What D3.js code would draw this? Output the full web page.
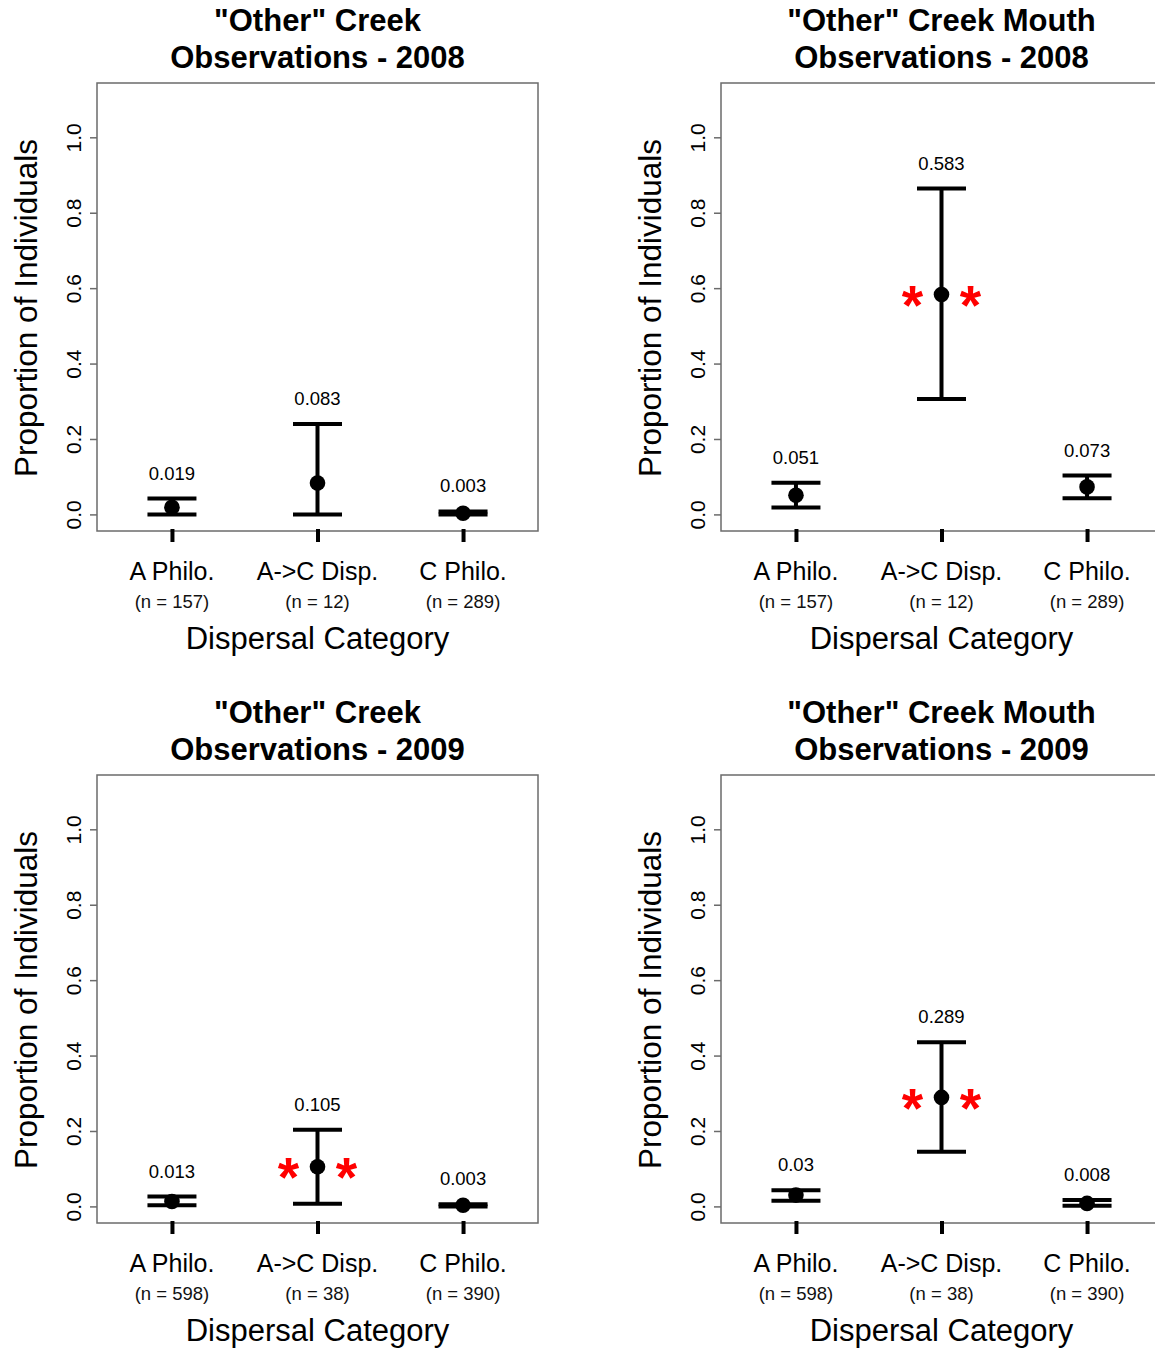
<!DOCTYPE html>
<html>
<head>
<meta charset="utf-8">
<script src="https://cdn.jsdelivr.net/npm/d3@7"></script>
<style>
  html, body { margin: 0; padding: 0; background: #fff; }
  svg { display: block; font-family: "Liberation Sans", Arial, sans-serif; }
</style>
</head>
<body>
<svg id="chart" width="1155" height="1348"></svg>
<script>
// ---------- Data ----------
const categories = ["A Philo.", "A->C Disp.", "C Philo."];
const yTickValues = [0, 0.2, 0.4, 0.6, 0.8, 1.0];
const xLabel = "Dispersal Category";
const yLabel = "Proportion of Individuals";

const titlesCreek2008 = ['"Other" Creek', "Observations - 2008"];
const titlesMouth2008 = ['"Other" Creek Mouth', "Observations - 2008"];
const titlesCreek2009 = ['"Other" Creek', "Observations - 2009"];
const titlesMouth2009 = ['"Other" Creek Mouth', "Observations - 2009"];

const n2008 = [157, 12, 289];
const n2009 = [598, 38, 390];

const propCreek2008  = [0.019, 0.083, 0.003];
const lowerCreek2008 = [0.000, 0.000, 0.000];
const upperCreek2008 = [0.042, 0.240, 0.008];
const sigCreek2008   = [false, false, false];

const propMouth2008  = [0.051, 0.583, 0.073];
const lowerMouth2008 = [0.018, 0.306, 0.043];
const upperMouth2008 = [0.084, 0.864, 0.103];
const sigMouth2008   = [false, true, false];

const propCreek2009  = [0.013, 0.105, 0.003];
const lowerCreek2009 = [0.003, 0.007, 0.000];
const upperCreek2009 = [0.026, 0.203, 0.006];
const sigCreek2009   = [false, true, false];

const propMouth2009  = [0.030, 0.289, 0.008];
const lowerMouth2009 = [0.015, 0.145, 0.002];
const upperMouth2009 = [0.043, 0.435, 0.017];
const sigMouth2009   = [false, true, false];

// ---------- Drawing ----------
const svg = d3.select("#chart");

const box = { left: 97, right: 538, top: 83, bottom: 531 };
const x = d3.scaleLinear().domain([0.485, 3.515]).range([box.left, box.right]);
const y = d3.scaleLinear().domain([-0.044, 1.144]).range([box.bottom, box.top]);

function drawPanel(dx, dy, titles, n, prop, lower, upper, sig) {
  const g = svg.append("g").attr("transform", `translate(${dx},${dy})`);
  const cx = (box.left + box.right) / 2;

  // Titles
  g.selectAll("text.title").data(titles).join("text")
    .attr("class", "title")
    .attr("x", cx)
    .attr("y", (d, i) => 31 + i * 37)
    .attr("text-anchor", "middle")
    .attr("font-size", 31)
    .attr("font-weight", "bold")
    .attr("fill", "#000")
    .text(d => d);

  // Box
  g.append("rect")
    .attr("x", box.left).attr("y", box.top)
    .attr("width", box.right - box.left).attr("height", box.bottom - box.top)
    .attr("fill", "none").attr("stroke", "#6b6b6b").attr("stroke-width", 1.5);

  // Y axis
  const yAxis = d3.axisLeft(y).tickValues(yTickValues).tickSize(7).tickSizeOuter(0)
    .tickFormat(d3.format(".1f"));
  const ya = g.append("g").attr("transform", `translate(${box.left},0)`).call(yAxis);
  ya.select(".domain").remove();
  ya.selectAll(".tick line").attr("stroke", "#6b6b6b").attr("stroke-width", 1.5);
  ya.selectAll(".tick text")
    .attr("x", null).attr("dy", null)
    .attr("transform", "translate(-16,0) rotate(-90)")
    .attr("text-anchor", "middle")
    .attr("font-size", 21)
    .attr("font-family", "Liberation Sans, Arial, sans-serif")
    .attr("fill", "#000");

  // Y label
  g.append("text")
    .attr("transform", `translate(37,308) rotate(-90)`)
    .attr("text-anchor", "middle")
    .attr("font-size", 31.5)
    .attr("fill", "#000")
    .text(yLabel);

  // X axis (thick ticks only)
  const xAxis = d3.axisBottom(x).tickValues([1, 2, 3]).tickSize(13).tickFormat("");
  const xa = g.append("g").attr("transform", `translate(0,${box.bottom - 2})`).call(xAxis);
  xa.select(".domain").remove();
  xa.selectAll(".tick line").attr("stroke", "#000").attr("stroke-width", 4);

  // Category labels
  g.selectAll("text.cat").data(categories).join("text")
    .attr("class", "cat")
    .attr("x", (d, i) => x(i + 1))
    .attr("y", 580)
    .attr("text-anchor", "middle")
    .attr("font-size", 25)
    .attr("fill", "#000")
    .text(d => d);

  g.selectAll("text.nlab").data(n).join("text")
    .attr("class", "nlab")
    .attr("x", (d, i) => x(i + 1))
    .attr("y", 608)
    .attr("text-anchor", "middle")
    .attr("font-size", 18.5)
    .attr("fill", "#111")
    .text(d => `(n = ${d})`);

  // X label
  g.append("text")
    .attr("x", cx).attr("y", 649)
    .attr("text-anchor", "middle")
    .attr("font-size", 31)
    .attr("fill", "#000")
    .text(xLabel);

  const idx = d3.range(prop.length);
  const capHalf = 24.5;

  // Error bars
  g.selectAll("line.vbar").data(idx).join("line")
    .attr("class", "vbar")
    .attr("x1", i => x(i + 1)).attr("x2", i => x(i + 1))
    .attr("y1", i => y(lower[i])).attr("y2", i => y(upper[i]))
    .attr("stroke", "#000").attr("stroke-width", 4);
  g.selectAll("line.capU").data(idx).join("line")
    .attr("class", "capU")
    .attr("x1", i => x(i + 1) - capHalf).attr("x2", i => x(i + 1) + capHalf)
    .attr("y1", i => y(upper[i])).attr("y2", i => y(upper[i]))
    .attr("stroke", "#000").attr("stroke-width", 4);
  g.selectAll("line.capL").data(idx).join("line")
    .attr("class", "capL")
    .attr("x1", i => x(i + 1) - capHalf).attr("x2", i => x(i + 1) + capHalf)
    .attr("y1", i => y(lower[i])).attr("y2", i => y(lower[i]))
    .attr("stroke", "#000").attr("stroke-width", 4);

  // Points
  g.selectAll("circle.pt").data(idx).join("circle")
    .attr("class", "pt")
    .attr("cx", i => x(i + 1)).attr("cy", i => y(prop[i]))
    .attr("r", 7.8).attr("fill", "#000");

  // Value labels
  g.selectAll("text.val").data(idx).join("text")
    .attr("class", "val")
    .attr("x", i => x(i + 1))
    .attr("y", i => y(upper[i]) - 19)
    .attr("text-anchor", "middle")
    .attr("font-size", 18.5)
    .attr("fill", "#000")
    .text(i => String(prop[i]));

  // Significance asterisks
  const sigIdx = idx.filter(i => sig[i]);
  sigIdx.forEach(i => {
    [-29, 29].forEach(off => {
      g.append("text")
        .attr("x", x(i + 1) + off)
        .attr("y", y(prop[i]) + 29.5)
        .attr("text-anchor", "middle")
        .attr("font-size", 55)
        .attr("font-weight", "bold")
        .attr("fill", "#ff0000")
        .text("*");
    });
  });
}

drawPanel(0, 0, titlesCreek2008, n2008, propCreek2008, lowerCreek2008, upperCreek2008, sigCreek2008);
drawPanel(624, 0, titlesMouth2008, n2008, propMouth2008, lowerMouth2008, upperMouth2008, sigMouth2008);
drawPanel(0, 692, titlesCreek2009, n2009, propCreek2009, lowerCreek2009, upperCreek2009, sigCreek2009);
drawPanel(624, 692, titlesMouth2009, n2009, propMouth2009, lowerMouth2009, upperMouth2009, sigMouth2009);
</script>
</body>
</html>
